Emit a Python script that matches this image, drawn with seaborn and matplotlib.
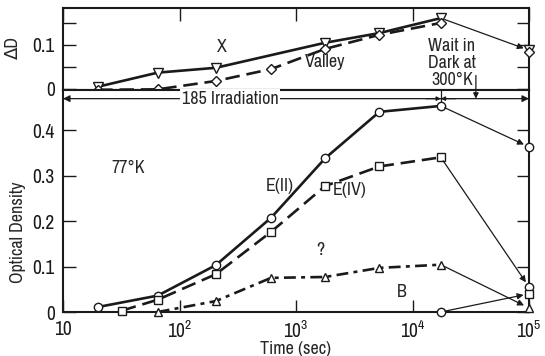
import matplotlib
matplotlib.use("Agg")
import matplotlib.pyplot as plt
import seaborn as sns
import numpy as np

# ---------------- data ----------------
# bottom panel: optical density vs time (77 K irradiation)
t_E2 = [20, 65, 205, 610, 1780, 5200, 17500]
od_E2 = [0.011, 0.036, 0.103, 0.207, 0.338, 0.440, 0.453]
t_E4 = [32, 65, 205, 610, 1780, 5200, 17500]
od_E4 = [0.003, 0.027, 0.083, 0.176, 0.277, 0.320, 0.340]
t_Q = [65, 205, 610, 1780, 5200, 17500]
od_Q = [0.000, 0.024, 0.075, 0.077, 0.097, 0.104]
t_B = [17500]
od_B = [0.000]
# after waiting in dark at 300 K
t_wait = 1e5
od_E2_wait = 0.363
od_E4_wait = 0.055
od_Q_wait = 0.009
od_B_wait = 0.040

# top panel: delta D
t_X = [20, 65, 205, 1780, 5200, 17500]
dD_X = [0.005, 0.037, 0.048, 0.105, 0.127, 0.161]
t_V = [20, 65, 205, 610, 1780, 5200, 17500]
dD_V = [-0.002, -0.001, 0.018, 0.045, 0.091, 0.123, 0.150]
dD_X_wait = 0.088
dD_V_wait = 0.083

t_irr_end = 17500
x_ticks = [10, 100, 1000, 10000, 100000]
x_ticklabels = ["10", r"$\mathregular{10^2}$", r"$\mathregular{10^3}$",
                r"$\mathregular{10^4}$", r"$\mathregular{10^5}$"]
od_ticks = [0, 0.1, 0.2, 0.3, 0.4]
od_ticklabels = ["0", "0.1", "0.2", "0.3", "0.4"]
dD_ticks = [0, 0.05, 0.1, 0.15]
dD_ticklabels = ["0", "", "0.1", ""]

# ---------------- style ----------------
sns.set_theme(style="ticks")
FONT = ["Liberation Sans Narrow", "Archivo Narrow", "DejaVu Sans"]
plt.rcParams["font.family"] = FONT
plt.rcParams["mathtext.fontset"] = "custom"
plt.rcParams["mathtext.rm"] = "Archivo Narrow"
plt.rcParams["axes.linewidth"] = 1.5
FS = 13
TFS = 14

W, H = 545, 356
fig = plt.figure(figsize=(W / 100, H / 100), dpi=100)
L, R = 63, 529
ax_top = fig.add_axes([L / W, 1 - 90 / H, (R - L) / W, (90 - 8) / H])
ax = fig.add_axes([L / W, 1 - 312 / H, (R - L) / W, (312 - 90) / H])

for a in (ax, ax_top):
    a.set_xscale("log")
    a.set_xlim(10, 1e5)
    a.minorticks_off()
    a.grid(False)
    for s in a.spines.values():
        s.set_linewidth(1.5)
        s.set_color("k")

ax.set_ylim(0, 0.488)
ax_top.set_ylim(-0.0025, 0.184)

LW = 1.9
mk = dict(markerfacecolor="white", markeredgecolor="k", markeredgewidth=1.0,
          clip_on=False)

# bottom panel series
sns.lineplot(x=t_E2, y=od_E2, ax=ax, color="k", lw=LW, marker="o",
             markersize=6, zorder=3, **mk)
sns.lineplot(x=t_E4, y=od_E4, ax=ax, color="k", lw=LW, marker="s",
             markersize=5.5, linestyle=(0, (5.5, 2.6)), zorder=3, **mk)
sns.lineplot(x=t_Q, y=od_Q, ax=ax, color="k", lw=LW, marker="^",
             markersize=6, linestyle=(0, (4.5, 2.0, 1.5, 2.0)), zorder=3, **mk)
sns.lineplot(x=t_B, y=od_B, ax=ax, color="k", lw=LW, marker="o",
             markersize=6, zorder=3, **mk)

arr = dict(arrowstyle="-|>", color="k", lw=0.9, shrinkA=3, shrinkB=4,
           mutation_scale=9)
for y0, y1 in [(od_E2[-1], od_E2_wait), (od_E4[-1], od_E4_wait),
               (od_Q[-1], od_Q_wait), (od_B[-1], od_B_wait)]:
    ax.annotate("", xy=(t_wait, y1), xytext=(t_irr_end, y0),
                arrowprops=arr, annotation_clip=False)

ax.plot([t_wait], [od_E2_wait], marker="o", markersize=6, zorder=4, **mk)
ax.plot([t_wait], [od_E4_wait], marker="o", markersize=6, zorder=4, **mk)
ax.plot([t_wait], [od_B_wait], marker="s", markersize=5.5, zorder=4, **mk)
ax.plot([t_wait], [od_Q_wait], marker="^", markersize=6, zorder=4, **mk)

# top panel series
sns.lineplot(x=t_X, y=dD_X, ax=ax_top, color="k", lw=LW, marker="v",
             markersize=6.5, zorder=3, **mk)
sns.lineplot(x=t_V, y=dD_V, ax=ax_top, color="k", lw=LW, marker="D",
             markersize=4.8, linestyle=(0, (5.5, 2.6)), zorder=3, **mk)
ax_top.annotate("", xy=(t_wait, dD_X_wait), xytext=(t_irr_end, dD_X[-1]),
                arrowprops=arr, annotation_clip=False)
ax_top.plot([t_wait], [dD_X_wait], marker="v", markersize=6.5, zorder=4, **mk)
ax_top.plot([t_wait], [dD_V_wait], marker="D", markersize=4.8, zorder=4, **mk)

# irradiation / wait arrows
y_arr = 0.469
harr = dict(arrowstyle="-|>", color="k", lw=0.9, shrinkA=0, shrinkB=0,
            mutation_scale=10)
ax.annotate("", xy=(10, y_arr), xytext=(t_irr_end, y_arr), arrowprops=harr,
            annotation_clip=False)
ax.annotate("", xy=(1e5, y_arr), xytext=(t_irr_end, y_arr), arrowprops=harr,
            annotation_clip=False)
ax.annotate("", xy=(t_irr_end, y_arr), xytext=(13000, y_arr),
            arrowprops=dict(harr, mutation_scale=6), annotation_clip=False)
ax.annotate("", xy=(t_irr_end, y_arr), xytext=(23500, y_arr),
            arrowprops=dict(harr, mutation_scale=6), annotation_clip=False)
ax.vlines(t_irr_end, 0.453, 0.488, color="k", lw=0.9, clip_on=False)
ax.annotate("", xy=(35000, y_arr), xytext=(35000, 0.52),
            arrowprops=dict(harr, mutation_scale=8), annotation_clip=False)
ax.text(272, y_arr, "185 Irradiation", ha="center", va="center", fontsize=FS,
        bbox=dict(facecolor="white", edgecolor="none", pad=1.0), zorder=5)

# labels inside panels
ax.text(36, 0.316, "77°K", ha="center", va="center", fontsize=FS)
ax.text(730, 0.277, "E(II)", ha="center", va="center", fontsize=FS)
ax.text(2870, 0.268, "E(IV)", ha="center", va="center", fontsize=FS)
ax.text(1630, 0.136, "?", ha="center", va="center", fontsize=FS)
ax.text(8100, 0.044, "B", ha="center", va="center", fontsize=FS)
ax_top.text(230, 0.095, "X", ha="center", va="center", fontsize=FS)
ax_top.text(1780, 0.061, "Valley", ha="center", va="center", fontsize=FS)
ax_top.text(21800, 0.059, "Wait in\nDark at\n300°K", ha="center",
            va="center", fontsize=FS, linespacing=1.1)

# ticks
ax.set_xticks(x_ticks)
ax.set_xticklabels(x_ticklabels)
ax.set_yticks(od_ticks)
ax.set_yticklabels(od_ticklabels)
ax.tick_params(axis="both", which="major", direction="in", length=9,
               width=1.0, labelsize=TFS, colors="k", pad=6,
               top=False, right=True)
ax_top.set_xticks(x_ticks)
ax_top.set_yticks(dD_ticks)
ax_top.set_yticklabels(dD_ticklabels)
ax_top.tick_params(axis="both", which="major", direction="in", length=9,
                   width=1.0, labelsize=TFS, colors="k", pad=6,
                   top=True, bottom=False, right=True, labelbottom=False)

ax.set_xlabel("Time (sec)", fontsize=FS)
ax.xaxis.set_label_coords(0.5, -0.13)
ax.set_ylabel("Optical Density", fontsize=FS)
ax.yaxis.set_label_coords(-0.08, 0.36)
ax_top.set_ylabel("ΔD", fontsize=FS)
ax_top.yaxis.set_label_coords(-0.09, 0.52)

fig.savefig("out.png", dpi=100)
